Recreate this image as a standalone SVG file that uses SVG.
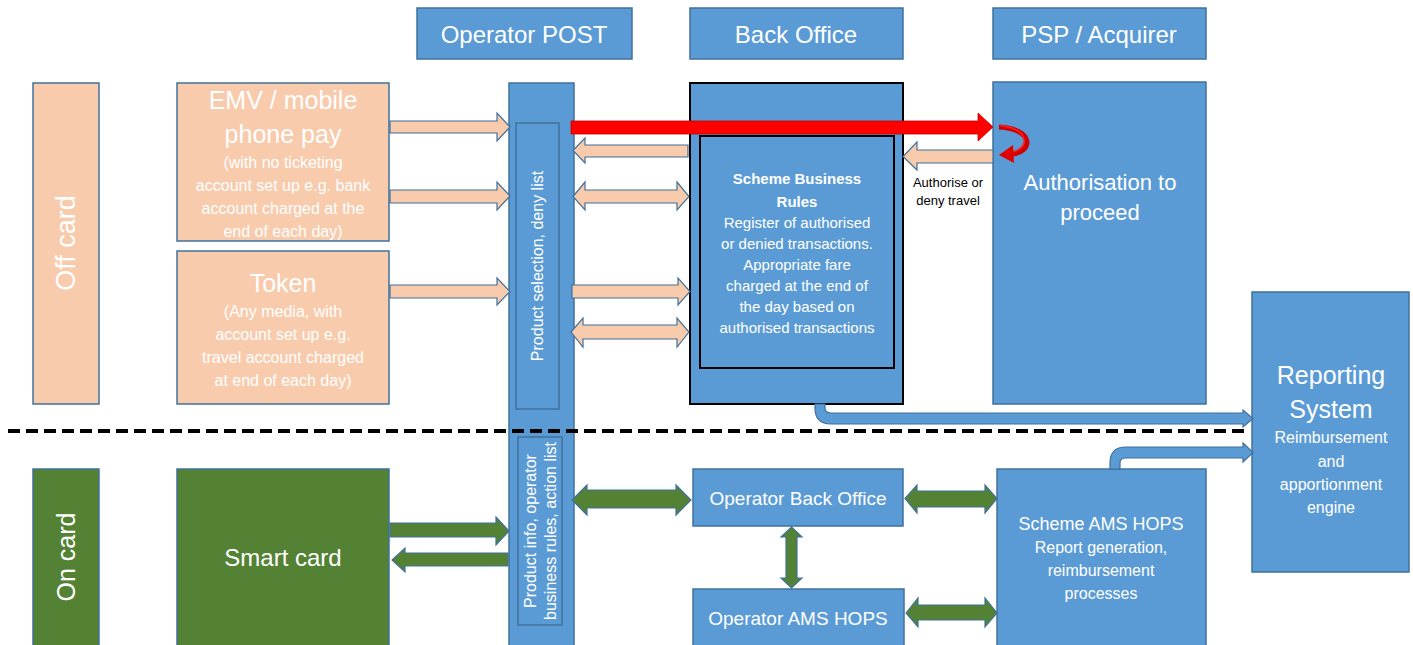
<svg xmlns="http://www.w3.org/2000/svg" width="1413" height="645" viewBox="0 0 1413 645">
<style>
.b{fill:#5B9BD5;stroke:#41719C;stroke-width:1.5}
.bk{fill:#5B9BD5;stroke:#000;stroke-width:2}
.p{fill:#F8CBAD;stroke:#41719C;stroke-width:1.5}
.g{fill:#548235;stroke:#41719C;stroke-width:1.5}
.ap{fill:#F8CBAD;stroke:#41719C;stroke-width:1.2}
.ag{fill:#548235;stroke:#41719C;stroke-width:1.2}
.ab{fill:#5B9BD5;stroke:#41719C;stroke-width:1.2}
text{font-family:"Liberation Sans",Arial,sans-serif;fill:#fff;text-anchor:middle}
.h{font-size:24px}
.s{font-size:16px}
.m{font-size:15px}
</style>
<rect width="1413" height="645" fill="#fff"/>

<g id="hdr-post"><rect class="b" x="417" y="8" width="215" height="51"/><text class="h" x="524" y="43">Operator POST</text></g>
<g id="hdr-back"><rect class="b" x="690" y="8" width="213" height="51"/><text class="h" x="796" y="43">Back Office</text></g>
<g id="hdr-psp"><rect class="b" x="993" y="8" width="213" height="51"/><text class="h" x="1099" y="43">PSP / Acquirer</text></g>

<g id="offcard"><rect class="p" x="33" y="83" width="66" height="321"/><text font-size="27" transform="translate(75 243) rotate(-90)">Off card</text></g>
<g id="oncard"><rect class="g" x="33" y="469" width="66" height="180"/><text font-size="25" transform="translate(75 557) rotate(-90)">On card</text></g>

<g id="emv"><rect class="p" x="177" y="83" width="212" height="158"/>
<text x="283" y="109" font-size="25">EMV / mobile</text>
<text x="283" y="143" font-size="25">phone pay</text>
<text class="s" x="283" y="168">(with no ticketing</text>
<text class="s" x="283" y="191">account set up e.g. bank</text>
<text class="s" x="283" y="214">account charged at the</text>
<text class="s" x="283" y="237">end of each day)</text></g>

<g id="token"><rect class="p" x="177" y="251" width="212" height="153"/>
<text x="283" y="292" font-size="25">Token</text>
<text class="s" x="283" y="317">(Any media, with</text>
<text class="s" x="283" y="340">account set up e.g.</text>
<text class="s" x="283" y="363">travel account charged</text>
<text class="s" x="283" y="386">at end of each day)</text></g>

<g id="smartcard"><rect class="g" x="177" y="469" width="212" height="180"/><text class="h" x="283" y="566">Smart card</text></g>

<g id="post"><rect class="b" x="509" y="83" width="65" height="566"/>
<rect class="b" x="516" y="123" width="43" height="286"/>
<text class="s" transform="translate(543 266) rotate(-90)">Product selection, deny list</text>
<rect class="b" x="518" y="437" width="44" height="188"/>
<text class="s" transform="translate(536 531) rotate(-90)">Product info, operator</text>
<text class="s" transform="translate(556 531) rotate(-90)">business rules, action list</text></g>

<g id="backoffice"><rect class="bk" x="690" y="83" width="213" height="321"/>
<rect class="bk" x="700" y="136" width="194" height="232"/>
<text class="m" x="797" y="184" font-weight="bold">Scheme Business</text>
<text class="m" x="797" y="207" font-weight="bold">Rules</text>
<text class="m" x="797" y="228">Register of authorised</text>
<text class="m" x="797" y="249">or denied transactions.</text>
<text class="m" x="797" y="270">Appropriate fare</text>
<text class="m" x="797" y="291">charged at the end of</text>
<text class="m" x="797" y="312">the day based on</text>
<text class="m" x="797" y="333">authorised transactions</text></g>

<g id="authorisation"><rect class="b" x="993" y="82" width="213" height="322"/>
<text x="1100" y="190" font-size="22">Authorisation to</text>
<text x="1100" y="220" font-size="22">proceed</text></g>

<g id="reporting"><rect class="b" x="1252" y="292" width="157" height="280"/>
<text x="1331" y="384" font-size="25">Reporting</text>
<text x="1331" y="418" font-size="25">System</text>
<text class="s" x="1331" y="443">Reimbursement</text>
<text class="s" x="1331" y="467">and</text>
<text class="s" x="1331" y="490">apportionment</text>
<text class="s" x="1331" y="513">engine</text></g>

<g id="opbackoffice"><rect class="b" x="693" y="469" width="210" height="57"/><text x="798" y="505" font-size="19">Operator Back Office</text></g>
<g id="opams"><rect class="b" x="693" y="589" width="211" height="60"/><text x="798" y="625" font-size="19">Operator AMS HOPS</text></g>
<g id="schemeams"><rect class="b" x="997" y="469" width="209" height="180"/>
<text x="1101" y="530" font-size="18">Scheme AMS HOPS</text>
<text class="s" x="1101" y="553">Report generation,</text>
<text class="s" x="1101" y="576">reimbursement</text>
<text class="s" x="1101" y="599">processes</text></g>

<line x1="8" y1="431" x2="1245" y2="431" stroke="#000" stroke-width="4" stroke-dasharray="12 6"/>

<g id="connectors">
<polygon class="ap" points="390,121 497,121 497,113 510,127 497,141 497,133 390,133"/>
<polygon class="ap" points="390,190 497,190 497,182 510,196 497,210 497,203 390,203"/>
<polygon class="ap" points="390,285 497,285 497,278 510,291.5 497,305 497,298 390,298"/>
<polygon class="ap" points="688,145 585,145 585,138 573,150.5 585,163 585,157 688,157"/>
<polygon class="ap" points="573,196.5 585,182 585,190 677,190 677,182 689,196.5 677,210 677,203 585,203 585,210"/>
<polygon class="ap" points="572,285 678,285 678,278 690,291.5 678,305 678,298 572,298"/>
<polygon class="ap" points="571,332 583,318 583,325 677,325 677,318 689,332 677,347 677,339 583,339 583,347"/>
<polygon class="ap" points="993,150 917,150 917,142 903,156.5 917,170 917,163 993,163"/>
<polygon points="571,121 978,121 978,113 993,127 978,141 978,134 571,134" fill="#FF0000" stroke="#C00000" stroke-width="0.8"/>
<path d="M999,127 C1035,129 1033,153 1011,154" fill="none" stroke="#D00000" stroke-width="5"/>
<path d="M1000,125.5 C1030,128 1030,150 1011,152" fill="none" stroke="#FF2020" stroke-width="1.5"/>
<polygon points="1013,145 999,155 1014,163" fill="#E00000"/>
<text x="948" y="187" font-size="13" style="fill:#000">Authorise or</text>
<text x="948" y="205" font-size="13" style="fill:#000">deny travel</text>
<path class="ab" d="M815,404 V408 Q815,424 831,424 H1243 V427 L1253,418.5 L1243,410 V413 H831 Q825,413 825,408 V404 Z"/>
<path class="ab" d="M1110,469 V463 Q1110,447 1126,447 H1243 V443 L1253,452.5 L1243,462 V458 H1126 Q1120,458 1120,463 V469 Z"/>
<polygon class="ag" points="390,523 496,523 496,517 509,531 496,545 496,537 390,537"/>
<polygon class="ag" points="508,553 405,553 405,548 392,560 405,572 405,566 508,566"/>
<polygon class="ag" points="572,500 587,485 587,490 676,490 676,485 691,500 676,515 676,508 587,508 587,515"/>
<polygon class="ag" points="905,498.5 917,485 917,491 985,491 985,485 997,498.5 985,513 985,507 917,507 917,513"/>
<polygon class="ag" points="906,613 918,598 918,605 985,605 985,598 997,613 985,627 985,620 918,620 918,627"/>
<polygon class="ag" points="791.5,527 802,537 797,537 797,578 802,578 791.5,588 781,578 786,578 786,537 781,537"/>
</g>
</svg>
